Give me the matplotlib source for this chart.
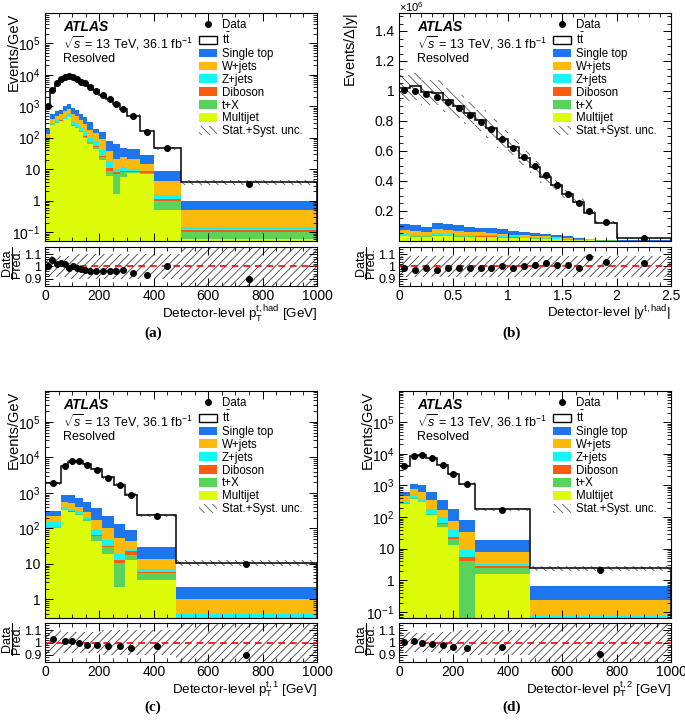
import numpy as np
import matplotlib
matplotlib.use('Agg')
import matplotlib.pyplot as plt
from matplotlib.patches import Patch
from matplotlib.lines import Line2D
from matplotlib.transforms import blended_transform_factory
from matplotlib.ticker import (FixedLocator, FuncFormatter, LogLocator,
                               NullFormatter, MultipleLocator)

plt.rcParams['font.family'] = ['Liberation Sans', 'DejaVu Sans']
plt.rcParams['mathtext.fontset'] = 'custom'
plt.rcParams['mathtext.rm'] = 'Liberation Sans'
plt.rcParams['mathtext.it'] = 'Liberation Sans:italic'
plt.rcParams['mathtext.bf'] = 'Liberation Sans:bold'
plt.rcParams['hatch.linewidth'] = 0.6

# (a) top-quark pT (hadronic), Events/GeV
edges_a = [0, 20, 35, 50, 65, 80, 95, 110, 125, 140, 155, 175, 200, 225, 250, 275, 300, 350, 400, 500, 1000]
data_a = [1050, 3250, 5300, 7300, 8700, 8900, 8200, 7300, 6000, 5300, 4200, 3100, 2270, 1680, 1170, 810, 475, 155, 46, 3.4]
ttbar_a = [860, 2530, 4480, 6320, 7490, 7820, 7310, 6660, 5590, 5020, 4050, 3020, 2210, 1670, 1156, 788, 459, 138, 37, 2.8]
multijet_a = [80, 260, 300, 340, 380, 450, 240, 210, 150, 100, 65, 45, 20, 6.2, 1.6, 5.5, 7.5, 7, 0.5, 0.06]
tx_a = [2, 5, 6, 7, 10, 10, 10, 10, 8, 8, 7, 5, 5, 2.8, 5.4, 2.4, 0.8, 0.5, 0.5, 0.04]
diboson_a = [1, 3, 4, 5, 5, 6, 6, 6, 4, 4, 3, 3, 2, 2, 1.3, 1.1, 0.7, 1.0, 0.13, 0.02]
zjets_a = [17, 32, 50, 48, 75, 94, 74, 64, 48, 38, 25, 27, 14, 7.6, 2.1, 2.4, 1.0, 0.5, 0.37, 0.03]
wjets_a = [35, 100, 140, 160, 230, 240, 230, 190, 150, 120, 80, 65, 50, 19.4, 11.1, 12.3, 11, 6, 2.8, 0.35]
stop_a = [55, 150, 220, 210, 340, 370, 290, 270, 200, 170, 125, 45, 56, 42, 41.5, 23.3, 23, 13, 4.7, 0.5]
unc_a = [0.09, 0.09, 0.09, 0.09, 0.09, 0.09, 0.1, 0.1, 0.1, 0.1, 0.1, 0.1, 0.1, 0.1, 0.1, 0.1, 0.1, 0.1, 0.1, 0.2]

# (b) |y| of hadronic top, Events/|dy|
edges_b = [0, 0.1, 0.2, 0.3, 0.4, 0.5, 0.6, 0.7, 0.8, 0.9, 1.0, 1.1, 1.2, 1.3, 1.4, 1.5, 1.6, 1.7, 1.8, 2.0, 2.5]
data_b = [1.009e6, 1.002e6, 0.980e6, 0.958e6, 0.927e6, 0.889e6, 0.842e6, 0.791e6, 0.744e6, 0.682e6,
          0.620e6, 0.558e6, 0.498e6, 0.438e6, 0.376e6, 0.316e6, 0.256e6, 0.200e6, 0.127e6, 0.022e6]
ttbar_b = [0.908e6, 0.926e6, 0.897e6, 0.868e6, 0.825e6, 0.794e6, 0.758e6, 0.715e6, 0.668e6, 0.602e6,
           0.559e6, 0.496e6, 0.437e6, 0.377e6, 0.334e6, 0.282e6, 0.237e6, 0.170e6, 0.113e6, 0.0174e6]
multijet_b = [30e3, 28e3, 26e3, 34e3, 30e3, 28e3, 26e3, 25e3, 24e3, 22e3, 20e3, 18e3, 16e3, 14e3, 11e3, 9e3, 6e3, 4e3, 2e3, 0.8e3]
tx_b = [4e3, 4e3, 4e3, 4e3, 4e3, 4e3, 4e3, 4e3, 4e3, 4e3, 3e3, 3e3, 3e3, 3e3, 3e3, 3e3, 3e3, 2e3, 2e3, 0.8e3]
diboson_b = [2e3, 2e3, 2e3, 2e3, 2e3, 2e3, 2e3, 2e3, 2e3, 2e3, 2e3, 2e3, 1e3, 1e3, 1e3, 1e3, 1e3, 1e3, 0.5e3, 0.2e3]
zjets_b = [10e3, 9e3, 8e3, 12e3, 10e3, 9e3, 8e3, 8e3, 7e3, 7e3, 6e3, 5e3, 5e3, 4e3, 3e3, 3e3, 2e3, 2e3, 1e3, 0.4e3]
wjets_b = [25e3, 25e3, 22e3, 28e3, 26e3, 22e3, 20e3, 18e3, 16e3, 14e3, 12e3, 10e3, 9e3, 8e3, 6e3, 5e3, 4e3, 3e3, 2e3, 1e3]
stop_b = [40e3, 36e3, 31e3, 40e3, 43e3, 39e3, 33e3, 32e3, 31e3, 29e3, 24e3, 22e3, 22e3, 19e3, 14e3, 10e3, 6e3, 4e3, 1.5e3, 0.8e3]
unc_b = [0.085] * 18 + [0.09, 0.09]

# (c) leading top pT
edges_c = [0, 60, 85, 110, 140, 170, 210, 255, 295, 340, 480, 1000]
data_c = [1940, 5900, 7680, 7800, 6200, 4470, 2680, 1620, 850, 224, 9.7]
ttbar_c = [1578, 4934, 6731, 7119, 5783, 4196, 2551, 1544, 805, 202, 8.6]
multijet_c = [105, 320, 285, 240, 165, 45, 18.7, 2.2, 12.7, 3.6, 0.2]
tx_c = [5, 10, 10, 15, 15, 17, 11.3, 8.1, 5.6, 1.8, 0.08]
diboson_c = [2, 10, 5, 5, 10, 4, 1, 2.4, 4.7, 0.6, 0.02]
zjets_c = [38, 60, 60, 40, 20, 26, 15, 6.9, 2, 1.1, 0.1]
wjets_c = [75, 160, 160, 100, 80, 83, 54, 32.4, 18, 7.1, 0.6]
stop_c = [80, 330, 330, 320, 260, 195, 118, 78, 45, 14.8, 1.17]
unc_c = [0.1, 0.09, 0.09, 0.09, 0.09, 0.09, 0.1, 0.1, 0.1, 0.1, 0.2]

# (d) subleading top pT
edges_d = [0, 40, 70, 100, 140, 180, 220, 280, 480, 1000]
data_d = [4100, 8600, 9400, 7300, 4270, 2280, 1100, 170, 2.2]
ttbar_d = [3460, 7390, 8428, 6776, 4040, 2184, 1067, 158, 1.78]
multijet_d = [265, 380, 295, 113, 48, 12.8, 0.03, 1.55, 0.03]
tx_d = [5, 10, 5, 9, 12, 7.8, 3.97, 0.9, 0.02]
diboson_d = [5, 10, 5, 5, 4, 2.4, 1.4, 0.35, 0.01]
zjets_d = [20, 85, 75, 57, 36, 15, 3.9, 0.6, 0.015]
wjets_d = [155, 305, 240, 151, 70, 40, 24.3, 4.4, 0.165]
stop_d = [170, 335, 380, 285, 165, 106, 48.4, 11.4, 0.41]
unc_d = [0.09, 0.08, 0.08, 0.08, 0.09, 0.09, 0.1, 0.1, 0.2]

proc_names = ['Multijet', 't+X', 'Diboson', 'Z+jets', 'W+jets', 'Single top']
proc_colors = ['#dcfc0a', '#5ad35a', '#fc5a0e', '#18f4f4', '#fdba0b', '#1e76ee']


def log_fmt(v, p):
    e = int(round(np.log10(v)))
    if e == 0:
        return '1'
    if e == 1:
        return '10'
    return r'$10^{%d}$' % e


def draw(col, row, edges, data, ttbar, procs, unc, logy, ylim, ylabel, xlabel,
         ylab_x, tag):
    left_px = [45, 399][col]
    x0 = left_px / 685
    w = 272 / 685
    top_main = [13, 391][row]
    bot_main = [241, 618][row]
    top_r = [247, 623][row]
    bot_r = [286, 662][row]
    ax = fig.add_axes([x0, 1 - bot_main / 720, w, (bot_main - top_main) / 720])
    axr = fig.add_axes([x0, 1 - bot_r / 720, w, (bot_r - top_r) / 720])

    edges = np.array(edges, dtype=float)
    widths = np.diff(edges)
    centers = edges[:-1] + widths / 2
    if logy:
        ax.set_yscale('log')

    bottom = np.zeros(len(data))
    for vals, c in zip(procs, proc_colors):
        vals = np.array(vals, dtype=float)
        ax.bar(edges[:-1], vals, width=widths, bottom=bottom, align='edge',
               color=c, linewidth=0)
        bottom = bottom + vals
    pred = bottom + np.array(ttbar, dtype=float)
    unc = np.array(unc)
    ax.bar(edges[:-1], 2 * unc * pred, width=widths, bottom=pred * (1 - unc),
           align='edge', fill=False, hatch='\\\\\\\\', edgecolor='0.35', linewidth=0)
    ax.stairs(pred, edges, color='k', lw=1.1)
    ax.plot(centers, data, 'o', color='k', ms=4)

    ax.set_xlim(edges[0], edges[-1])
    ax.set_ylim(*ylim)
    ax.tick_params(labelbottom=False)

    ratio = np.array(data) / pred
    axr.bar(edges[:-1], 2 * unc, width=widths, bottom=1 - unc, align='edge',
            fill=False, hatch='////', edgecolor='0.25', linewidth=0)
    axr.axhline(1.0, color='red', ls=(0, (4, 3)), lw=1.2)
    axr.plot(centers, ratio, 'o', color='k', ms=4)
    axr.set_xlim(edges[0], edges[-1])
    axr.set_ylim(0.84, 1.16)
    axr.yaxis.set_major_locator(FixedLocator([0.9, 1.0, 1.1]))
    axr.yaxis.set_minor_locator(MultipleLocator(0.02))
    axr.yaxis.set_major_formatter(FuncFormatter(lambda v, p: '%g' % v))

    if logy:
        ax.yaxis.set_major_locator(LogLocator(base=10, numticks=20))
        ax.yaxis.set_minor_locator(LogLocator(base=10, subs=np.arange(2, 10), numticks=20))
        ax.yaxis.set_major_formatter(FuncFormatter(log_fmt))
        ax.yaxis.set_minor_formatter(NullFormatter())
        for a in (ax, axr):
            a.xaxis.set_major_locator(MultipleLocator(200))
            a.xaxis.set_minor_locator(MultipleLocator(50))
    else:
        ax.yaxis.set_major_locator(FixedLocator([0.2e6, 0.4e6, 0.6e6, 0.8e6, 1.0e6, 1.2e6, 1.4e6]))
        ax.yaxis.set_minor_locator(MultipleLocator(0.05e6))
        ax.yaxis.set_major_formatter(FuncFormatter(lambda v, p: '%g' % (v / 1e6)))
        ax.text(0.0, 0.995, r'$\times10^{6}$', transform=ax.transAxes,
                ha='left', va='bottom', fontsize=8)
        for a in (ax, axr):
            a.xaxis.set_major_locator(MultipleLocator(0.5))
            a.xaxis.set_minor_locator(MultipleLocator(0.1))
    axr.xaxis.set_major_formatter(FuncFormatter(lambda v, p: '%g' % v))

    for a in (ax, axr):
        a.tick_params(which='both', direction='in', top=True, right=True, labelsize=10)
        a.tick_params(which='major', length=6, width=0.7)
        a.tick_params(which='minor', length=3, width=0.6)
        for s in a.spines.values():
            s.set_linewidth(0.8)
    axr.tick_params(axis='x', pad=2.5)
    axr.tick_params(axis='y', labelsize=9, pad=2.5)

    ax.set_ylabel(ylabel, fontsize=10.5, loc='top')
    ax.yaxis.set_label_coords(ylab_x, 1.0)
    axr.set_xlabel(xlabel, fontsize=9.6, loc='right', labelpad=0)

    # Data / Pred. label of the ratio pad
    tr = blended_transform_factory(fig.transFigure, axr.transAxes)
    fig.text((left_px - 38) / 685, 0.6, 'Data', transform=tr, rotation=90,
             ha='center', va='center', fontsize=9)
    fig.text((left_px - 28) / 685, 0.6, 'Pred.', transform=tr, rotation=90,
             ha='center', va='center', fontsize=9)
    fig.add_artist(Line2D([(left_px - 33) / 685] * 2, [0.18, 1.0], transform=tr,
                          color='k', lw=0.8))

    ax.text(0.066, 0.94, 'ATLAS', transform=ax.transAxes, fontsize=10,
            fontweight='bold', fontstyle='italic', va='center')
    ax.text(0.066, 0.868, r'$\sqrt{s}$ = 13 TeV, 36.1 fb$^{-1}$',
            transform=ax.transAxes, fontsize=9, va='center')
    ax.text(0.066, 0.798, 'Resolved', transform=ax.transAxes, fontsize=9, va='center')

    handles = [Line2D([], [], marker='o', color='k', ls='none', ms=4),
               Patch(facecolor='white', edgecolor='black', lw=1)]
    labels = ['Data', r'$\mathrm{t\bar{t}}$']
    for n, c in list(zip(proc_names, proc_colors))[::-1]:
        handles.append(Patch(facecolor=c, linewidth=0))
        labels.append(n)
    handles.append(Patch(facecolor='white', hatch='\\\\\\\\', edgecolor='0.35', lw=0))
    labels.append('Stat.+Syst. unc.')
    ax.legend(handles, labels, loc='upper left', bbox_to_anchor=(0.565, 0.975),
              frameon=False, fontsize=8.3, handlelength=1.6, handleheight=0.75,
              labelspacing=0.08, handletextpad=0.4, borderaxespad=0, borderpad=0)

    fig.text([153, 512][col] / 685, 1 - [333, 707][row] / 720, tag,
             family='Liberation Serif', fontweight='bold', fontsize=11,
             ha='center', va='center')


fig = plt.figure(figsize=(6.85, 7.2), dpi=100)

draw(0, 0, edges_a, data_a, ttbar_a,
     [multijet_a, tx_a, diboson_a, zjets_a, wjets_a, stop_a], unc_a, True,
     (0.052, 9.2e5), 'Events/GeV',
     r'Detector-level $\mathrm{p}_{\mathrm{T}}^{\mathrm{t,had}}$ [GeV]', -0.088, '(a)')
draw(1, 0, edges_b, data_b, ttbar_b,
     [multijet_b, tx_b, diboson_b, zjets_b, wjets_b, stop_b], unc_b, False,
     (0, 1.52e6), r'Events/$\Delta$|y|',
     r'Detector-level |$\mathrm{y}^{\mathrm{t,had}}$|', -0.143, '(b)')
draw(0, 1, edges_c, data_c, ttbar_c,
     [multijet_c, tx_c, diboson_c, zjets_c, wjets_c, stop_c], unc_c, True,
     (0.3, 7.4e5), 'Events/GeV',
     r'Detector-level $\mathrm{p}_{\mathrm{T}}^{\mathrm{t,1}}$ [GeV]', -0.088, '(c)')
draw(1, 1, edges_d, data_d, ttbar_d,
     [multijet_d, tx_d, diboson_d, zjets_d, wjets_d, stop_d], unc_d, True,
     (0.065, 9.6e5), 'Events/GeV',
     r'Detector-level $\mathrm{p}_{\mathrm{T}}^{\mathrm{t,2}}$ [GeV]', -0.088, '(d)')

fig.savefig('out.png', dpi=100)
